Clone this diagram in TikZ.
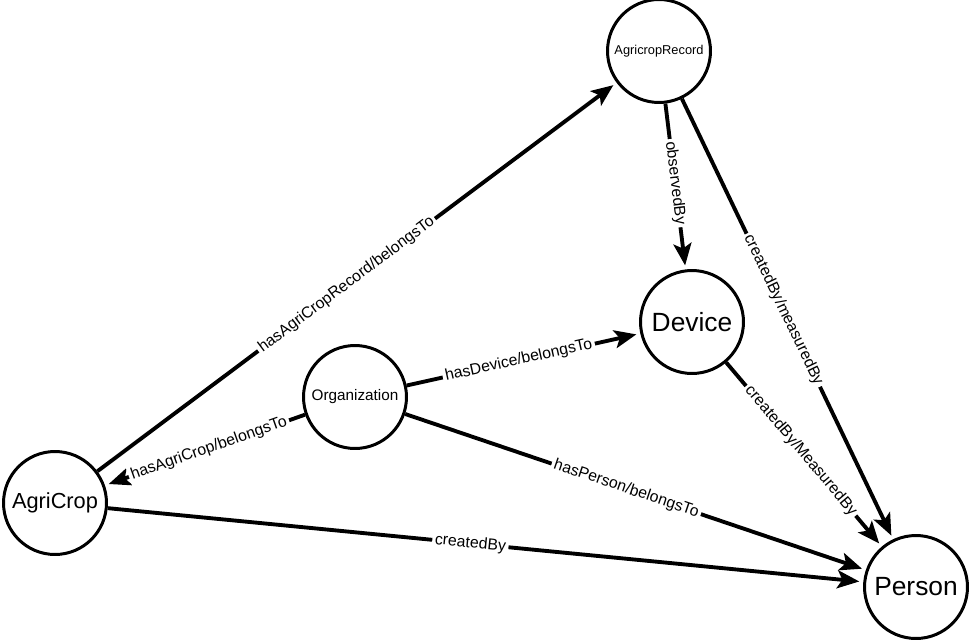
\documentclass[tikz,border=0pt]{standalone}
\usepackage{fontspec}
\setmainfont{Liberation Sans}
\usetikzlibrary{arrows.meta}

\begin{document}
\begin{tikzpicture}[x=0.02cm, y=-0.02cm,
    entity/.style={draw, circle, line width=1.7pt, minimum size=2.06cm, inner sep=0pt},
    rel/.style={line width=2.2pt, -{Stealth[length=0.44cm, width=0.36cm, inset=0.1cm]}, shorten >=0.08cm},
    lbl/.style={fill=white, sloped, inner sep=1.5pt, font=\fontsize{9}{11}\selectfont, pos=0.48}]
    \useasboundingbox (0,0) rectangle (971,643);

    % Entities
    \node[entity, font=\fontsize{7.3}{9}\selectfont] (record) at (659,51) {AgricropRecord};
    \node[entity, font=\fontsize{15}{18}\selectfont] (device) at (692,322) {Device};
    \node[entity, font=\fontsize{8.7}{10}\selectfont] (org) at (355,397) {Organization};
    \node[entity, font=\fontsize{12.4}{15}\selectfont] (crop) at (55,503) {AgriCrop};
    \node[entity, font=\fontsize{15}{18}\selectfont] (person) at (916,587) {Person};

    % Relations
    \draw[rel] (crop) -- (record) node[lbl] {hasAgriCropRecord/belongsTo};
    \draw[rel] (org) -- (crop) node[lbl] {hasAgriCrop/belongsTo};
    \draw[rel] (org) -- (device) node[lbl] {hasDevice/belongsTo};
    \draw[rel] (org) -- (person) node[lbl] {hasPerson/belongsTo};
    \draw[rel] (crop) -- (person) node[lbl] {createdBy};
    \draw[rel] (record) -- (device) node[lbl] {observedBy};
    \draw[rel] (record) -- (person) node[lbl] {createdBy/measuredBy};
    \draw[rel] (device) -- (person) node[lbl] {createdBy/MeasuredBy};
\end{tikzpicture}
\end{document}
